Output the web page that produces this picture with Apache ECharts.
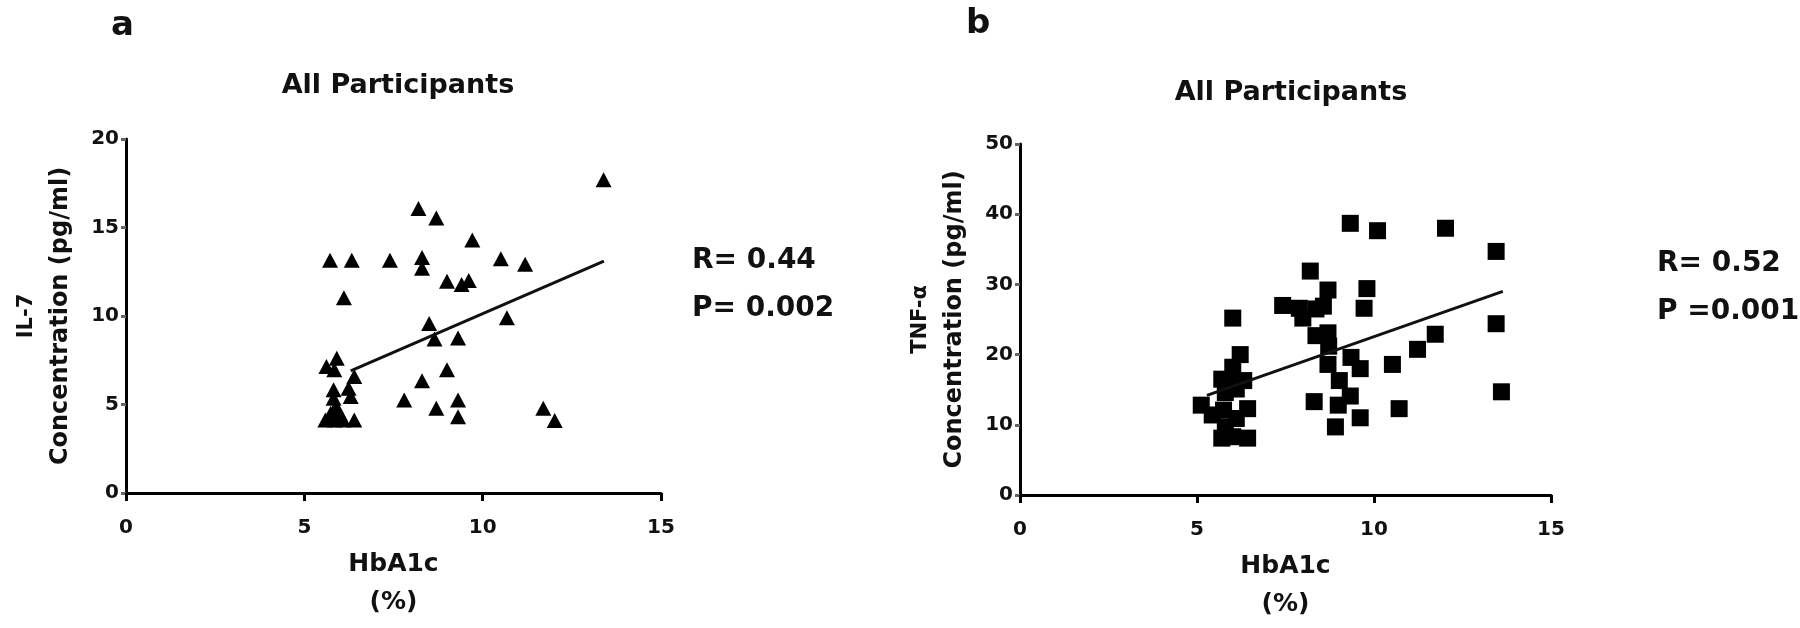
<!DOCTYPE html>
<html>
<head>
<meta charset="utf-8">
<script src="https://cdn.jsdelivr.net/npm/echarts@6/dist/echarts.min.js"></script>
<style>
html,body{margin:0;padding:0;background:#fff;}
#c{width:1800px;height:628px;}
</style>
</head>
<body>
<div id="c"></div>
<script>
// Panel a: IL-7 vs HbA1c
const il7Points = [
  [13.39,17.7],[8.20,16.08],[8.70,15.53],[9.71,14.3],[5.72,13.15],[6.33,13.15],[7.40,13.15],
  [8.30,13.3],[8.30,12.7],[10.51,13.24],[11.19,12.92],[9.0,11.97],[9.41,11.78],[9.61,12.0],
  [6.11,11.03],[8.50,9.57],[8.65,8.70],[9.31,8.76],[10.68,9.9],[9.0,6.96],[8.30,6.34],
  [7.80,5.26],[8.70,4.79],[9.31,5.26],[9.31,4.31],[11.70,4.79],[12.02,4.09],
  [5.62,7.15],[5.91,7.62],[5.84,6.96],[6.40,6.58],[5.82,5.83],[6.24,5.92],[5.82,5.35],
  [6.30,5.45],[5.89,4.88],[5.59,4.12],[5.84,4.12],[6.09,4.12],[6.40,4.12],[5.74,4.5],[5.99,4.5]
];
const il7Trend = [[6.3,6.9],[13.4,13.1]];
// Panel b: TNF-α vs HbA1c
const tnfPoints = [
  [9.33,38.7],[10.1,37.65],[12.02,38.0],[13.45,34.7],[8.20,31.9],[8.70,29.2],[9.80,29.4],
  [9.72,26.6],[7.42,27.0],[7.89,26.6],[7.99,25.2],[8.36,26.5],[8.57,26.9],[6.01,25.2],
  [8.36,22.7],[8.70,23.1],[8.72,21.2],[8.70,18.6],[13.45,24.4],[11.73,22.9],[11.23,20.75],
  [10.52,18.6],[9.35,19.6],[9.61,18.0],[9.02,16.3],[9.33,14.1],[8.99,12.8],[9.61,11.0],
  [8.91,9.7],[8.31,13.3],[10.71,12.3],[13.6,14.7],
  [6.22,20.0],[6.01,18.2],[5.70,16.5],[5.96,16.1],[6.32,16.3],[5.80,14.6],[6.11,15.1],
  [5.12,12.8],[5.43,11.4],[5.75,12.1],[6.43,12.3],[6.11,10.9],[5.80,9.7],[5.70,8.1],
  [6.43,8.1],[6.01,8.3]
];
const tnfTrend = [[5.28,14.2],[13.64,29.0]];

const panelLabels = ['a','b'];
const panelTitles = ['All Participants','All Participants'];
const yNameTop = ['IL-7','TNF-α'];
const yNameBottom = 'Concentration (pg/ml)';
const xNameTop = 'HbA1c';
const xNameBottom = '(%)';
const stats = [['R= 0.44','P= 0.002'],['R= 0.52','P =0.001']];

const FONT = '"DejaVu Sans",Verdana,sans-serif';
const INK = '#111';
const axisCommon = {
  axisLine:{show:true,lineStyle:{color:'#000',width:3}},
  splitLine:{show:false},
  axisLabel:{color:INK,fontFamily:FONT,fontWeight:'bold',fontSize:20}
};
function xAxis(i){
  return Object.assign({}, axisCommon, {
    gridIndex:i,type:'value',min:0,max:15,interval:5,
    name:'{t|'+xNameTop+'}\n{u|'+xNameBottom+'}',nameLocation:'middle',nameGap:52,
    nameTextStyle:{color:INK,fontFamily:FONT,fontWeight:'bold',fontSize:25,lineHeight:38,
      rich:{t:{fontFamily:FONT,fontWeight:'bold',fontSize:25,lineHeight:38,color:INK},
            u:{fontFamily:FONT,fontWeight:'bold',fontSize:25,lineHeight:38,color:INK}}},
    axisTick:{show:true,length:8,lineStyle:{color:'#000',width:3}},
    axisLabel:Object.assign({},axisCommon.axisLabel,{margin:25})
  });
}
function yAxis(i,max,interval){
  return Object.assign({}, axisCommon, {
    gridIndex:i,type:'value',min:0,max:max,interval:interval,
    name:'{t|'+yNameTop[i]+'}\n{u|'+yNameBottom+'}',nameLocation:'middle',nameRotate:90,nameGap:48,
    nameTextStyle:{color:INK,fontFamily:FONT,fontWeight:'bold',fontSize:24,
      rich:{t:{fontFamily:FONT,fontWeight:'bold',fontSize:21,lineHeight:34,color:INK},
            u:{fontFamily:FONT,fontWeight:'bold',fontSize:24,lineHeight:34,color:INK}}},
    axisLabel:Object.assign({},axisCommon.axisLabel,{margin:7}),
    axisTick:{show:true,length:5,lineStyle:{color:'#666',width:3}}
  });
}
const chart = echarts.init(document.getElementById('c'));
chart.setOption({
  backgroundColor:'#fff',
  animation:false,
  title:[
    {text:panelTitles[0],left:393,top:67,textAlign:'center',textStyle:{fontFamily:FONT,fontWeight:'bold',fontSize:27,color:INK}},
    {text:panelTitles[1],left:1286,top:74,textAlign:'center',textStyle:{fontFamily:FONT,fontWeight:'bold',fontSize:27,color:INK}}
  ],
  grid:[
    {left:126,right:1139,top:139,bottom:135,containLabel:false},
    {left:1020,right:249,top:144,bottom:128,containLabel:false}
  ],
  xAxis:[xAxis(0),xAxis(1)],
  yAxis:[yAxis(0,20,5),yAxis(1,50,10)],
  graphic:[
    {type:'text',left:111,top:9,style:{text:panelLabels[0],font:'bold 34px '+FONT,fill:INK}},
    {type:'text',left:966,top:7,style:{text:panelLabels[1],font:'bold 34px '+FONT,fill:INK}},
    {type:'text',left:692,top:247,style:{text:stats[0][0],font:'bold 28px '+FONT,fill:INK}},
    {type:'text',left:692,top:295,style:{text:stats[0][1],font:'bold 28px '+FONT,fill:INK}},
    {type:'text',left:1657,top:250,style:{text:stats[1][0],font:'bold 28px '+FONT,fill:INK}},
    {type:'text',left:1657,top:298,style:{text:stats[1][1],font:'bold 28px '+FONT,fill:INK}}
  ],
  series:[
    {type:'scatter',xAxisIndex:0,yAxisIndex:0,data:il7Points,symbol:'triangle',symbolSize:[16,15],itemStyle:{color:'#000',opacity:1}},
    {type:'line',xAxisIndex:0,yAxisIndex:0,data:il7Trend,showSymbol:false,symbol:'none',lineStyle:{color:INK,width:3}},
    {type:'scatter',xAxisIndex:1,yAxisIndex:1,data:tnfPoints,symbol:'rect',symbolSize:17,itemStyle:{color:'#000',opacity:1}},
    {type:'line',xAxisIndex:1,yAxisIndex:1,data:tnfTrend,showSymbol:false,symbol:'none',lineStyle:{color:INK,width:3}}
  ]
});
</script>
</body>
</html>
